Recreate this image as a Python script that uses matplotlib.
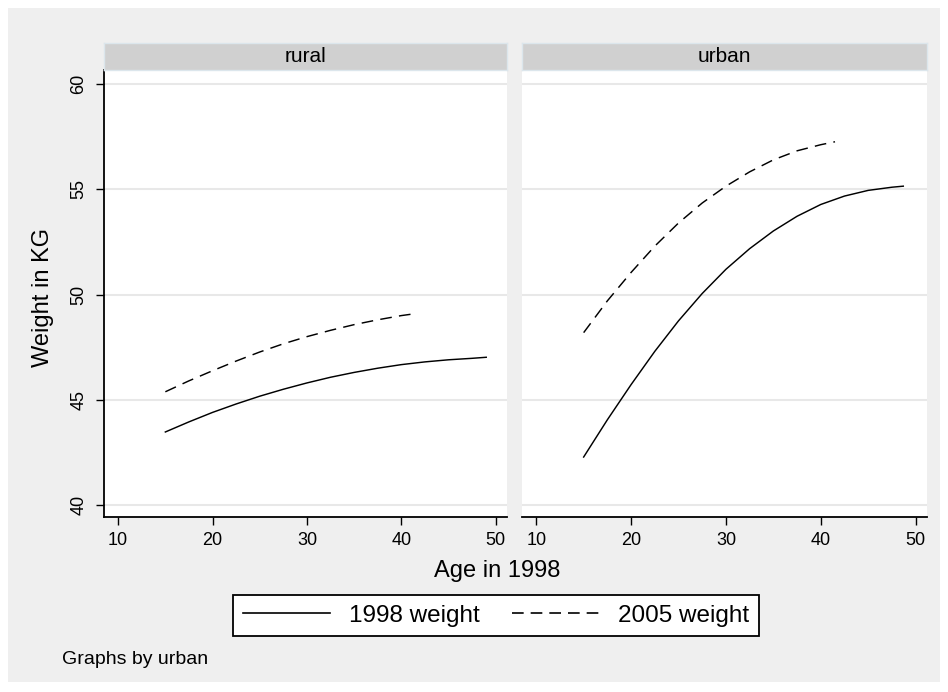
import numpy as np
import matplotlib.pyplot as plt
from matplotlib.patches import Rectangle
from matplotlib.lines import Line2D

# data
rural_age_1998 = [15, 17.5, 20, 22.5, 25, 27.5, 30, 32.5, 35, 37.5, 40, 42.5, 45, 47.5, 49]
rural_w1998 = [43.47, 43.95, 44.4, 44.8, 45.17, 45.5, 45.8, 46.07, 46.3, 46.5,
               46.67, 46.8, 46.9, 46.97, 47.02]
rural_age_2005 = [15, 17.5, 20, 22.5, 25, 27.5, 30, 32.5, 35, 37.5, 40, 41.6]
rural_w2005 = [45.38, 45.9, 46.38, 46.84, 47.27, 47.66, 48.0, 48.3, 48.57, 48.8,
               49.0, 49.1]

urban_age_1998 = [15, 17.5, 20, 22.5, 25, 27.5, 30, 32.5, 35, 37.5, 40, 42.5, 45, 47.5, 48.7]
urban_w1998 = [42.28, 44.05, 45.72, 47.3, 48.75, 50.05, 51.2, 52.18, 53.02, 53.72,
               54.28, 54.68, 54.95, 55.1, 55.15]
urban_age_2005 = [15, 17.5, 20, 22.5, 25, 27.5, 30, 32.5, 35, 37.5, 40, 41.5]
urban_w2005 = [48.19, 49.7, 51.05, 52.3, 53.4, 54.35, 55.15, 55.83, 56.4, 56.83,
               57.12, 57.26]

panels = ['rural', 'urban']
xticks = [10, 20, 30, 40, 50]
yticks = [40, 45, 50, 55, 60]

W, H = 948, 692
plt.rcParams['font.family'] = ['Liberation Sans', 'DejaVu Sans']
fig = plt.figure(figsize=(W / 100, H / 100), dpi=100)
fig.patch.set_facecolor('white')

# stata-like grey background
fig.patches.append(Rectangle((8 / W, 1 - 682 / H), 932 / W, 674 / H,
                             transform=fig.transFigure, facecolor='#efefef',
                             edgecolor='none', zorder=-10))

def px(x0, y0, x1, y1):
    return [x0 / W, 1 - y1 / H, (x1 - x0) / W, (y1 - y0) / H]

dash = (0, (8, 5))
data = {
    'rural': (rural_age_1998, rural_w1998, rural_age_2005, rural_w2005),
    'urban': (urban_age_1998, urban_w1998, urban_age_2005, urban_w2005),
}
lefts = [(104, 507), (522, 927)]

for i, name in enumerate(panels):
    x0, x1 = lefts[i]
    ax = fig.add_axes(px(x0, 70, x1, 517))
    ax.set_facecolor('white')
    a1, w1, a2, w2 = data[name]
    ax.plot(a1, w1, color='black', lw=1.05)
    ax.plot(a2, w2, color='black', lw=1.05, linestyle=dash)
    ax.set_xlim(8.5, 51.2)
    ax.set_ylim(39.43, 60.67)
    ax.set_xticks(xticks)
    ax.set_yticks(yticks)
    ax.grid(True, axis='y', color='#e8e8e8', lw=1.5)
    ax.set_axisbelow(True)
    for s in ['top', 'right']:
        ax.spines[s].set_visible(False)
    ax.spines['bottom'].set_linewidth(1.3)
    ax.tick_params(axis='x', length=6, width=1, labelsize=13, pad=5)
    if i == 0:
        ax.spines['left'].set_linewidth(1.3)
        ax.tick_params(axis='y', length=6, width=1, labelsize=13, pad=6)
        for lab in ax.get_yticklabels():
            lab.set_rotation(90)
            lab.set_va('center')
    else:
        ax.spines['left'].set_visible(False)
        ax.tick_params(axis='y', left=False, labelleft=False)

    # strip on top
    sax = fig.add_axes(px(x0, 43, x1, 70))
    sax.set_facecolor('#d0d0d0')
    sax.set_xticks([])
    sax.set_yticks([])
    for s in sax.spines.values():
        s.set_edgecolor('#dce6ec')
        s.set_linewidth(1)
    sax.text(0.5, 0.5, name, ha='center', va='center', fontsize=15,
             transform=sax.transAxes)

fig.text(43 / W, 1 - 297 / H, 'Weight in KG', ha='center', va='center',
         rotation=90, fontsize=17)
fig.text(497 / W, 1 - 571 / H, 'Age in 1998', ha='center', va='center', fontsize=17)

handles = [Line2D([], [], color='black', lw=1.2),
           Line2D([], [], color='black', lw=1.2, linestyle=(0, (7, 4.2)))]
leg = fig.legend(handles, ['1998 weight', '2005 weight'], ncol=2,
                 loc='center', bbox_to_anchor=(496 / W, 1 - 615.5 / H),
                 fontsize=17.5, frameon=True, fancybox=False, handlelength=3.6,
                 handletextpad=0.75, columnspacing=1.35, borderpad=0.4,
                 borderaxespad=0, framealpha=1)
leg.get_frame().set_edgecolor('black')
leg.get_frame().set_facecolor('white')
leg.get_frame().set_linewidth(1.3)

fig.text(62 / W, 1 - 659 / H, 'Graphs by urban', ha='left', va='center', fontsize=14)

fig.savefig('out.png', dpi=100)
